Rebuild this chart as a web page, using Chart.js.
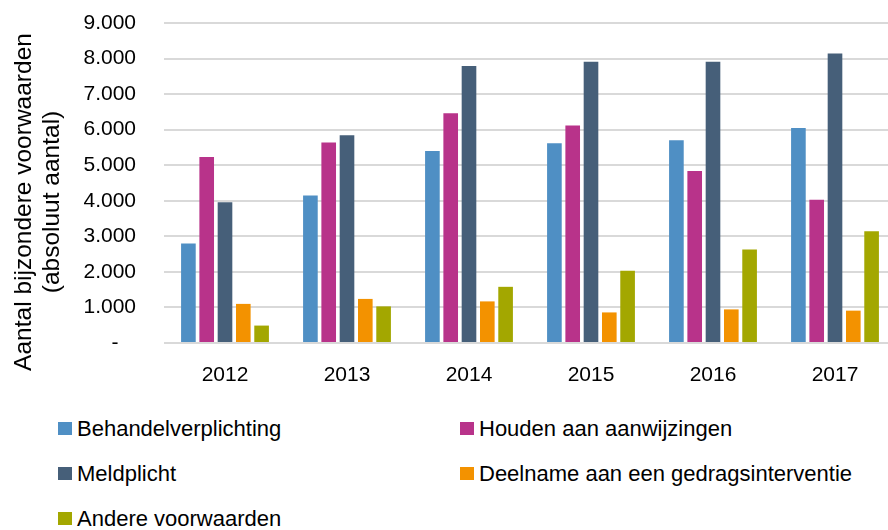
<!DOCTYPE html>
<html lang="nl">
<head>
<meta charset="utf-8">
<title>Bijzondere voorwaarden</title>
<script src="https://cdn.jsdelivr.net/npm/chart.js@4.4.1/dist/chart.umd.min.js"></script>
<style>
    html, body { margin: 0; padding: 0; background: #fff; }
    #wrap { position: relative; width: 888px; height: 530px; overflow: hidden; }
    #chartBox { position: absolute; left: 0; top: 0; width: 900px; height: 400px; }
    #legend {
        position: absolute; left: 58px; top: 406px;
        display: grid; grid-template-columns: 402px 402px; grid-auto-rows: 45px;
        font-family: 'Liberation Sans', Arial, sans-serif;
        font-size: 22px; color: #000;
    }
    .item { display: flex; align-items: center; white-space: nowrap; }
    .item i { display: inline-block; width: 14px; height: 13px; margin-right: 5px; }
</style>
</head>
<body>
<div id="wrap">
    <div id="chartBox"><canvas id="voorwaardenChart" width="900" height="400"></canvas></div>
    <div id="legend"></div>
</div>
<script>
// ===== Datos =====
const jaren = ['2012', '2013', '2014', '2015', '2016', '2017'];
const behandelverplichting = [2800, 4150, 5400, 5620, 5700, 6050];
const houdenAanAanwijzingen = [5230, 5640, 6460, 6120, 4840, 4030];
const meldplicht = [3960, 5840, 7790, 7910, 7910, 8140];
const deelnameGedragsinterventie = [1100, 1240, 1170, 860, 945, 910];
const andereVoorwaarden = [490, 1030, 1580, 2030, 2630, 3140];

const reeksNamen = ['Behandelverplichting', 'Houden aan aanwijzingen', 'Meldplicht',
    'Deelname aan een gedragsinterventie', 'Andere voorwaarden'];
const yTickLabels = ['-   ', '1.000', '2.000', '3.000', '4.000', '5.000', '6.000', '7.000', '8.000', '9.000'];
const yTitel = ['Aantal bijzondere voorwaarden', '(absoluut aantal)'];

const kleuren = ['#4f8fc4', '#b8338a', '#465f79', '#f39200', '#a3a700'];
const fontFam = "'Liberation Sans', Arial, sans-serif";

Chart.defaults.font.family = fontFam;
Chart.defaults.color = '#000';

// titel van de y-as (twee regels, gedraaid)
const yTitelPlugin = {
    id: 'yTitel',
    afterDraw(chart) {
        const ctx = chart.ctx;
        ctx.save();
        ctx.font = '24.5px ' + fontFam;
        ctx.fillStyle = '#000';
        ctx.textAlign = 'center';
        ctx.textBaseline = 'middle';
        yTitel.forEach((regel, i) => {
            ctx.save();
            ctx.translate(i === 0 ? 24 : 52, 202);
            ctx.rotate(-Math.PI / 2);
            ctx.fillText(regel, 0, 0);
            ctx.restore();
        });
        ctx.restore();
    }
};

const reeksen = [behandelverplichting, houdenAanAanwijzingen, meldplicht,
    deelnameGedragsinterventie, andereVoorwaarden];

new Chart(document.getElementById('voorwaardenChart').getContext('2d'), {
    type: 'bar',
    data: {
        labels: jaren,
        datasets: reeksen.map((d, i) => ({
            label: reeksNamen[i],
            data: d,
            backgroundColor: kleuren[i],
            categoryPercentage: 0.75,
            barPercentage: 0.8
        }))
    },
    options: {
        responsive: false,
        animation: false,
        layout: { padding: { top: 23, right: 4, left: 0, bottom: 0 } },
        plugins: {
            legend: { display: false },
            tooltip: { enabled: false }
        },
        scales: {
            x: {
                grid: { display: false },
                border: { display: false },
                ticks: { font: { size: 21 }, padding: 12, maxRotation: 0, autoSkip: false },
                afterFit: s => { s.height = 57; }
            },
            y: {
                min: 0,
                max: 9000,
                ticks: {
                    stepSize: 1000,
                    font: { size: 21 },
                    padding: 10,
                    callback: (v, i) => yTickLabels[i]
                },
                // onzichtbare tick-streepjes geven de ruimte tussen labels en plot
                grid: { color: '#d9d9d9', lineWidth: 2, drawTicks: true, tickLength: 18, tickColor: 'rgba(0,0,0,0)' },
                border: { display: false },
                afterFit: s => { s.width = 164; }
            }
        }
    },
    plugins: [yTitelPlugin]
});

// legenda in twee kolommen
const legend = document.getElementById('legend');
reeksNamen.forEach((naam, i) => {
    const el = document.createElement('div');
    el.className = 'item';
    el.innerHTML = `<i style="background:${kleuren[i]}"></i><span>${naam}</span>`;
    legend.appendChild(el);
});
</script>
</body>
</html>
